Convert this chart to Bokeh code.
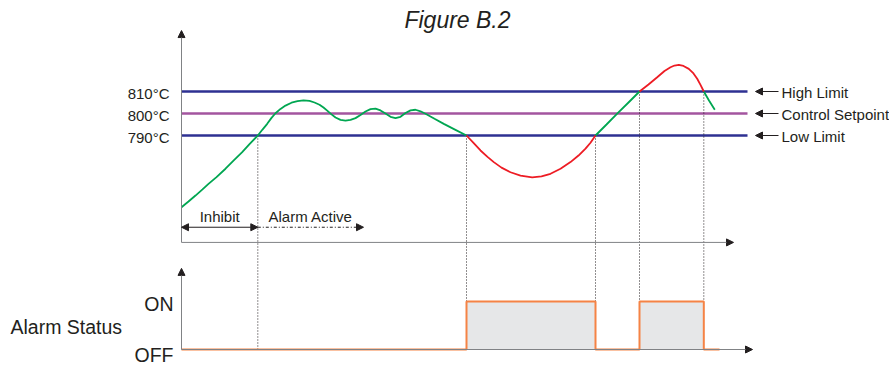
from bokeh.plotting import figure
from bokeh.models import Range1d, Arrow, NormalHead
from bokeh.core.properties import value
from bokeh.embed import file_html
from bokeh.resources import INLINE

FONT = "Liberation Sans"

# ---------------- data (time in s, temperature in degC) ----------------
limit_values = [810, 800, 790]
limit_names = ["High Limit", "Control Setpoint", "Low Limit"]
limit_labels = ["810°C", "800°C", "790°C"]

# green = within limits / alarm off, red = outside limits (alarm on)
green1_t = [0, 7, 14, 21, 27, 35, 44, 52, 60.7, 68, 76.3,
            81, 85.7, 90, 94, 99, 104, 110, 116, 122, 128,
            133, 138, 142, 146, 150, 154, 159, 164, 169, 174,
            179, 184, 189, 194, 199, 204, 209, 214, 219, 224,
            229, 234, 239, 244, 253, 262.3, 273, 285]
green1_temp = [757.4, 760.0, 762.7, 765.5, 768.0, 771.1, 774.9, 778.6, 782.4, 786.1, 790.0,
               792.7, 795.3, 798.0, 800.1, 802.1, 803.6, 804.9, 805.6, 806.0, 805.7,
               805.0, 804.0, 802.7, 801.2, 799.6, 798.2, 797.1, 796.8, 797.1, 797.9,
               799.3, 800.9, 802.0, 802.2, 801.4, 800.0, 798.5, 797.9, 798.5, 800.2,
               801.4, 801.7, 801.0, 799.9, 797.6, 795.3, 792.8, 790.0]
red1_t = [285, 292, 299, 306, 312.3, 320, 329, 339, 350.7, 360, 369, 379, 389, 397, 404, 409, 414]
red1_temp = [790.0, 786.6, 783.2, 780.3, 777.9, 775.4, 773.3, 771.8, 771.0, 771.4, 772.6,
             774.9, 777.9, 780.9, 784.0, 786.7, 790.0]
green2_t = [414, 425, 435.7, 447, 458]
green2_temp = [790.0, 795.0, 799.9, 805.0, 810.0]
red2_t = [458, 467, 475.7, 483, 489, 493, 497.3, 502, 507.3, 512, 515.7, 519, 522.3]
red2_temp = [810.0, 813.2, 816.5, 819.3, 821.0, 821.8, 822.1, 821.6, 820.3, 818.2, 815.8, 813.0, 810.0]
green3_t = [522.3, 527.5, 533.3]
green3_temp = [810.0, 805.9, 801.7]

inhibit_end = 76.3
event_t = [76.3, 285, 414, 458, 522.3]
event_temp = [790, 790, 790, 810, 810]
event_status = [0, 1, 1, 1, 1]

status_t = [0, 285, 414, 458, 522.3, 538]
status = [0, 1, 0, 1, 0, 0]

# ---------------- scales ----------------
TEMP_LO, TEMP_HI = 685.455, 851.364
ALARM_LO, ALARM_HI = -0.3333, 7.2708
AXIS_T = 741.4       # temperature where the time axis sits
TOP_T = 837.7


def to_alarm(temp):
    f = (temp - TEMP_LO) / (TEMP_HI - TEMP_LO)
    return ALARM_LO + f * (ALARM_HI - ALARM_LO)


p = figure(width=889, height=365, x_range=Range1d(-181, 708),
           y_range=Range1d(TEMP_LO, TEMP_HI),
           x_axis_type=None, y_axis_type=None, toolbar_location=None,
           output_backend="svg", min_border=0, outline_line_color=None)
p.extra_y_ranges = {"alarm": Range1d(ALARM_LO, ALARM_HI)}
p.background_fill_color = "white"
p.border_fill_color = "white"

AXIS_COLOR = "#808285"
TXT = "#231f20"


def head():
    return NormalHead(size=7, fill_color=TXT, line_color=TXT, line_width=1)


# ---------- top panel ----------
p.add_layout(Arrow(end=head(), x_start=0, y_start=AXIS_T, x_end=0, y_end=TOP_T,
                   line_color=AXIS_COLOR, line_width=1))
p.add_layout(Arrow(end=head(), x_start=0, y_start=AXIS_T, x_end=552, y_end=AXIS_T,
                   line_color=AXIS_COLOR, line_width=1))

limit_colors = ["#2e3192", "#a3559f", "#2e3192"]
for v, c in zip(limit_values, limit_colors):
    p.line([0, 566], [v, v], line_color=c, line_width=2.6)

# vertical dotted event lines (from crossing point down to alarm trace)
p.segment(x0=event_t, y0=[to_alarm(v) for v in event_temp], x1=event_t, y1=event_status,
          y_range_name="alarm", line_color=TXT, line_width=1, line_dash="1 2")

# process curve
p.multi_line(xs=[green1_t, green2_t, green3_t], ys=[green1_temp, green2_temp, green3_temp],
             line_color="#00a651", line_width=1.8)
p.multi_line(xs=[red1_t, red2_t], ys=[red1_temp, red2_temp],
             line_color="#ed1c24", line_width=1.8)

p.text(x=[-12] * 3, y=[v - 0.9 for v in limit_values], text=limit_labels,
       text_font=value(FONT), text_font_size="15px", text_color=TXT,
       text_align="right", text_baseline="middle")

for v, name in zip(limit_values, limit_names):
    p.add_layout(Arrow(end=head(), x_start=597, y_start=v, x_end=574, y_end=v,
                       line_color=TXT, line_width=1))
p.text(x=[600] * 3, y=[v - 0.4 for v in limit_values], text=limit_names,
       text_font=value(FONT), text_font_size="15px", text_color=TXT,
       text_align="left", text_baseline="middle")

ARR_T = 748.3
p.add_layout(Arrow(start=head(), end=head(), x_start=0, y_start=ARR_T,
                   x_end=inhibit_end, y_end=ARR_T, line_color=TXT, line_width=1))
p.add_layout(Arrow(end=head(), x_start=inhibit_end, y_start=ARR_T, x_end=182, y_end=ARR_T,
                   line_color=TXT, line_width=1, line_dash="3 2 1 2"))
p.text(x=[inhibit_end / 2], y=[753.2], text=["Inhibit"], text_font=value(FONT),
       text_font_size="15px", text_color=TXT, text_align="center",
       text_baseline="middle")
p.text(x=[87], y=[753.2], text=["Alarm Active"], text_font=value(FONT),
       text_font_size="15px", text_color=TXT, text_align="left",
       text_baseline="middle")

p.text(x=[276], y=[842.5], text=["Figure B.2"], text_font=value(FONT),
       text_font_size="23px", text_font_style="italic", text_color=TXT,
       text_align="center", text_baseline="middle")

# ---------- bottom panel: alarm status ----------
on_start = [status_t[i] for i in range(len(status) - 1) if status[i] == 1]
on_end = [status_t[i + 1] for i in range(len(status) - 1) if status[i] == 1]
p.quad(left=on_start, right=on_end, bottom=0, top=1, y_range_name="alarm",
       fill_color="#e6e7e8", line_color=None)

p.add_layout(Arrow(end=head(), x_start=0, y_start=0, x_end=0, y_end=1.69,
                   y_range_name="alarm", line_color=AXIS_COLOR, line_width=1))
p.add_layout(Arrow(end=head(), x_start=0, y_start=0, x_end=571, y_end=0,
                   y_range_name="alarm", line_color=AXIS_COLOR, line_width=1))

p.step(x=status_t, y=status, mode="after", y_range_name="alarm",
       line_color="#f58345", line_width=2)

p.text(x=[-8, -8], y=[0.952, -0.108], text=["ON", "OFF"], y_range_name="alarm",
       text_font=value(FONT), text_font_size="19.5px", text_color=TXT,
       text_align="right", text_baseline="middle")
p.text(x=[-171], y=[0.479], text=["Alarm Status"], y_range_name="alarm",
       text_font=value(FONT), text_font_size="19.5px", text_color=TXT,
       text_align="left", text_baseline="middle")

open("out.html", "w").write(file_html(p, INLINE))
